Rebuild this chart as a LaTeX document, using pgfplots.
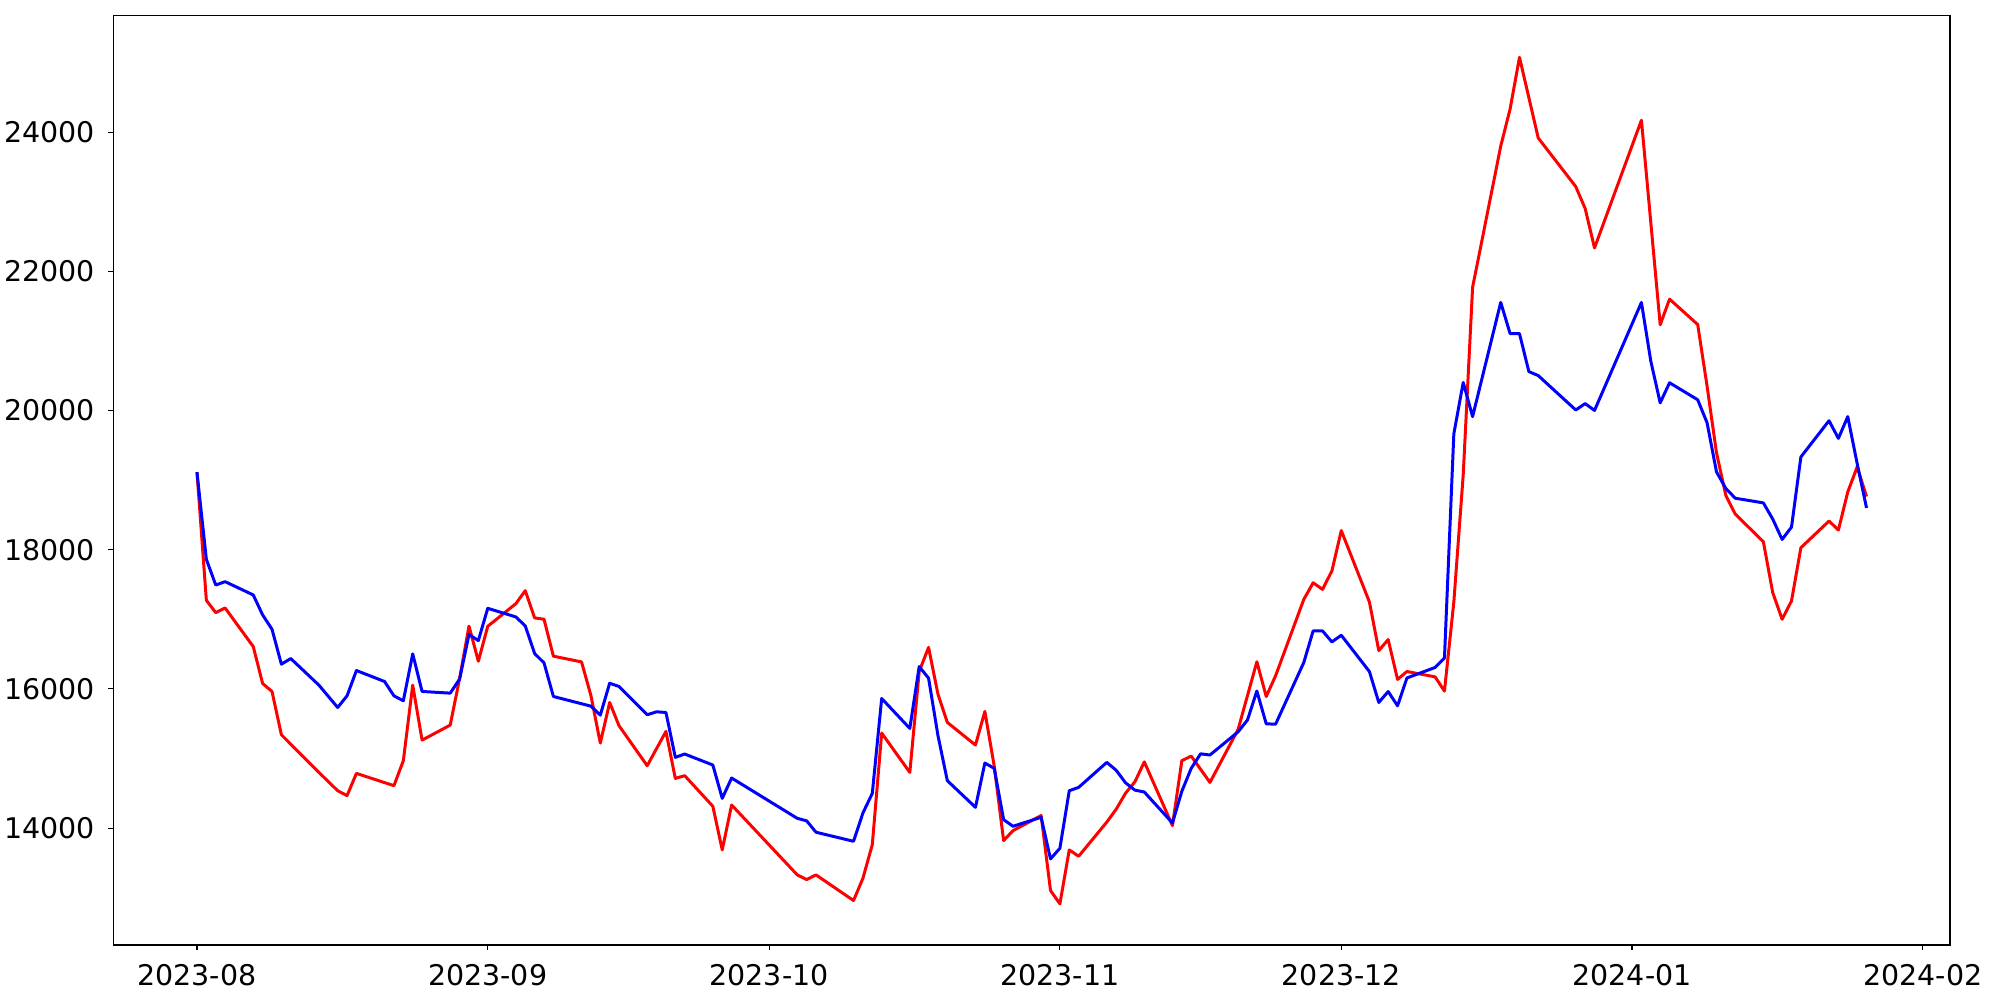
\documentclass[border=0pt]{standalone}
\usepackage{fontspec}
\setmainfont{DejaVu Sans}
\usepackage{pgfplots}
\pgfplotsset{compat=1.18}

% x = trading day counted from 2023-08-01
\begin{document}
\begin{tikzpicture}
\useasboundingbox (-11.35mm,-5.5mm) rectangle (188.65mm,94.5mm);
\begin{axis}[
    scale only axis,
    width=183.65mm, height=92.97mm,
    xmin=-8.9, xmax=186.9,
    ymin=12320, ymax=25680,
    xtick={0,31,61,92,122,153,184},
    xticklabels={2023-08,2023-09,2023-10,2023-11,2023-12,2024-01,2024-02},
    ytick={14000,16000,18000,20000,22000,24000},
    scaled y ticks=false,
    /pgf/number format/1000 sep={},
    /pgf/number format/assume math mode=true,
    tick pos=left,
    tick align=outside,
    major tick length=0.5mm,
    every tick/.style={black, line width=0.32pt},
    axis line style={line width=0.32pt},
    tick label style={font=\fontsize{8.1}{9.7}\selectfont},
    xticklabel style={yshift=-0.15mm},
    yticklabel style={xshift=-0.1mm},
]

\addplot[color=red, line width=0.85pt, line join=round] coordinates {
(0,19115) (1,17273) (2,17096) (3,17163) (6,16608) (7,16077) (8,15963)
(9,15341) (13,14800) (15,14537) (16,14466) (17,14786) (21,14609) (22,14968)
(23,16054) (24,15264) (27,15480) (28,16150) (29,16902) (30,16398) (31,16900)
(34,17225) (35,17412) (36,17020) (37,17001) (38,16470) (41,16388) (42,15905)
(43,15222) (44,15805) (45,15470) (48,14896) (50,15389) (51,14714) (52,14753)
(55,14313) (56,13686) (57,14332) (64,13327) (65,13260) (66,13327) (70,12959)
(71,13279) (72,13762) (73,15365) (76,14800) (77,16250) (78,16597) (79,15924)
(80,15518) (83,15193) (84,15676) (85,14890) (86,13820) (87,13963) (90,14180)
(91,13103) (92,12911) (93,13686) (94,13595) (97,14086) (98,14271) (99,14501)
(100,14666) (101,14951) (104,14035) (105,14968) (106,15034) (108,14656)
(111,15418) (113,16390) (114,15890) (115,16190) (118,17285) (119,17525)
(120,17430) (121,17696) (122,18275) (125,17249) (126,16550) (127,16709)
(128,16136) (129,16250) (132,16173) (133,15969) (134,17249) (135,19075)
(136,21770) (139,23800) (140,24334) (141,25076) (143,23916) (147,23218)
(148,22903) (149,22337) (154,24172) (156,21233) (157,21601) (160,21236)
(161,20350) (162,19395) (163,18780) (164,18512) (167,18115) (168,17383)
(169,17001) (170,17264) (171,18029) (174,18412) (175,18283) (176,18830)
(177,19190) (178,18764)
};

\addplot[color=blue, line width=0.85pt, line join=round] coordinates {
(0,19115) (1,17862) (2,17493) (3,17541) (6,17350) (7,17063) (8,16857)
(9,16355) (10,16436) (13,16054) (15,15733) (16,15900) (17,16264) (20,16106)
(21,15900) (22,15829) (23,16503) (24,15963) (27,15939) (28,16140) (29,16781)
(30,16695) (31,17158) (34,17034) (35,16905) (36,16508) (37,16374) (38,15891)
(42,15752) (43,15623) (44,16082) (45,16034) (48,15628) (49,15671) (50,15661)
(51,15016) (52,15064) (55,14906) (56,14427) (57,14719) (64,14140) (65,14104)
(66,13940) (70,13810) (71,14217) (72,14499) (73,15862) (76,15432) (77,16321)
(78,16154) (79,15330) (80,14681) (83,14298) (84,14935) (85,14858) (86,14121)
(87,14026) (90,14155) (91,13557) (92,13710) (93,14537) (94,14585) (97,14944)
(98,14831) (99,14650) (100,14545) (101,14518) (104,14073) (105,14529)
(106,14858) (107,15067) (108,15050) (111,15383) (112,15553) (113,15970)
(114,15497) (115,15494) (118,16378) (119,16833) (120,16833) (121,16675)
(122,16771) (125,16249) (126,15805) (127,15962) (128,15757) (129,16157)
(132,16308) (133,16442) (134,19665) (135,20404) (136,19913) (139,21554)
(140,21105) (141,21105) (142,20560) (143,20502) (147,20008) (148,20100)
(149,20002) (154,21554) (155,20710) (156,20111) (157,20399) (160,20155)
(161,19824) (162,19120) (163,18880) (164,18740) (167,18673) (168,18440)
(169,18148) (170,18325) (171,19333) (174,19854) (175,19600) (176,19913)
(177,19240) (178,18600)
};

\end{axis}
\end{tikzpicture}
\end{document}
